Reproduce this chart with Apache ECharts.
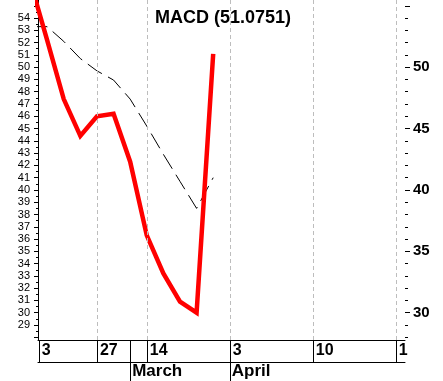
<!DOCTYPE html>
<html><head><meta charset="utf-8">
<script src="https://cdn.jsdelivr.net/npm/echarts@6/dist/echarts.min.js"></script>
<style>html,body{margin:0;padding:0;background:#fff}#c{width:443px;height:381px}</style>
</head><body><div id="c"></div>
<script>
// trading-day index (0 = week of "27")
const days = [-4, -3, -2, -1, 0, 1, 2, 3, 4, 5, 6, 7];
const macd = [56.9, 52.2, 47.4, 44.4, 46.0, 46.2, 42.3, 36.3, 33.2, 30.9, 30.0, 51.0751];
const signal = [53.3, 53.3, 52.1, 50.7, 49.7, 48.95, 47.4, 45.2, 42.9, 40.7, 38.5, 41.0];

const weekTickPos = [-3.5, 0, 2, 3, 8, 13, 18];
const weekLabelPos = [-3.5, 0, 3, 8, 13, 18];
const weekLabels = ['3', '27', '14', '3', '10', '1'];
const monthPos = [2, 8];
const monthLabels = ['March', 'April'];
const gridPos = [0, 3, 8, 13, 18];

const leftLabels = []; for (let v = 29; v <= 54; v++) leftLabels.push(v);
const leftTicks = []; for (let v = 28; v <= 55; v++) leftTicks.push(v);
const leftMinor = []; for (let v = 28.5; v <= 54.5; v += 1) leftMinor.push(v);
const rightLabels = [30, 35, 40, 45, 50];
const rightMajor = [30, 35, 40, 45, 50, 55];
const rightMinor = leftTicks;

const F = 'Liberation Sans, Arial, sans-serif';
const xmin = -3.55, xmax = 18.55, ymin = 27.78, ymax = 55.47;

const chart = echarts.init(document.getElementById('c'), null, {renderer: 'canvas'});
chart.setOption({
  animation: false,
  backgroundColor: '#fff',
  title: {
    text: 'MACD (51.0751)', left: 150, top: 4,
    textStyle: {fontFamily: F, fontSize: 18, fontWeight: 'bold', color: '#000'}
  },
  grid: {left: 38, right: 38, top: 0, bottom: 41, containLabel: false},
  xAxis: [
    {
      type: 'value', min: xmin, max: xmax, position: 'bottom',
      axisLine: {show: true, onZero: false, lineStyle: {color: '#000', width: 1}},
      axisTick: {show: true, customValues: weekTickPos, length: 22, lineStyle: {color: '#000', width: 1}},
      axisLabel: {
        show: true, customValues: weekLabelPos, align: 'left', margin: 3,
        padding: [0, 0, 0, 3],
        formatter: v => { const i = weekLabelPos.indexOf(v); return i >= 0 ? weekLabels[i] : ''; },
        fontFamily: F, fontSize: 16, fontWeight: 'bold', color: '#000'
      },
      splitLine: {show: false}
    },
    {
      type: 'value', min: xmin, max: xmax, position: 'bottom', offset: 22,
      axisLine: {show: true, onZero: false, lineStyle: {color: '#000', width: 1}},
      axisTick: {show: true, customValues: monthPos, length: 19, lineStyle: {color: '#000', width: 1}},
      axisLabel: {
        show: true, customValues: monthPos, align: 'left', margin: 1,
        padding: [0, 0, 0, 2],
        formatter: v => { const i = monthPos.indexOf(v); return i >= 0 ? monthLabels[i] : ''; },
        fontFamily: F, fontSize: 17, fontWeight: 'bold', color: '#000'
      },
      splitLine: {show: false}
    }
  ],
  yAxis: [
    {
      type: 'value', min: ymin, max: ymax, position: 'left',
      axisLine: {show: true, onZero: false, lineStyle: {color: '#000', width: 1}},
      axisTick: {show: true, customValues: leftTicks, length: 4, lineStyle: {color: '#000'}},
      axisLabel: {show: true, customValues: leftLabels, margin: 8, fontFamily: F, fontSize: 11, color: '#000'},
      splitLine: {show: false}
    },
    {
      type: 'value', min: ymin, max: ymax, position: 'left',
      axisLine: {show: false, onZero: false},
      axisTick: {show: true, customValues: leftMinor, length: 2, lineStyle: {color: '#000'}},
      axisLabel: {show: false},
      splitLine: {show: false}
    },
    {
      type: 'value', min: ymin, max: ymax, position: 'right',
      axisLine: {show: false, onZero: false},
      axisTick: {show: true, customValues: rightMinor, length: 3, lineStyle: {color: '#000'}},
      axisLabel: {show: true, customValues: rightLabels, margin: 8, fontFamily: F, fontSize: 15, fontWeight: 'bold', color: '#000'},
      splitLine: {show: false}
    },
    {
      type: 'value', min: ymin, max: ymax, position: 'right',
      axisLine: {show: false, onZero: false},
      axisTick: {show: true, customValues: rightMajor, length: 5, lineStyle: {color: '#000'}},
      axisLabel: {show: false},
      splitLine: {show: false}
    }
  ],
  series: [
    {
      type: 'line', name: 'grid', data: [], z: 1,
      markLine: {
        silent: true, symbol: 'none', label: {show: false},
        lineStyle: {color: '#bdbdbd', type: [4, 3], width: 1},
        data: gridPos.map(v => ({xAxis: v}))
      }
    },
    {
      type: 'line', name: 'signal', z: 2,
      data: days.map((d, i) => [d, signal[i]]),
      showSymbol: false, symbol: 'none',
      lineStyle: {color: '#000', width: 1, type: [17, 7]}
    },
    {
      type: 'line', name: 'MACD', z: 3,
      data: days.map((d, i) => [d, macd[i]]),
      showSymbol: false, symbol: 'none',
      lineStyle: {color: '#ff0000', width: 4.5, join: 'miter'}
    }
  ]
});
</script>
</body></html>
